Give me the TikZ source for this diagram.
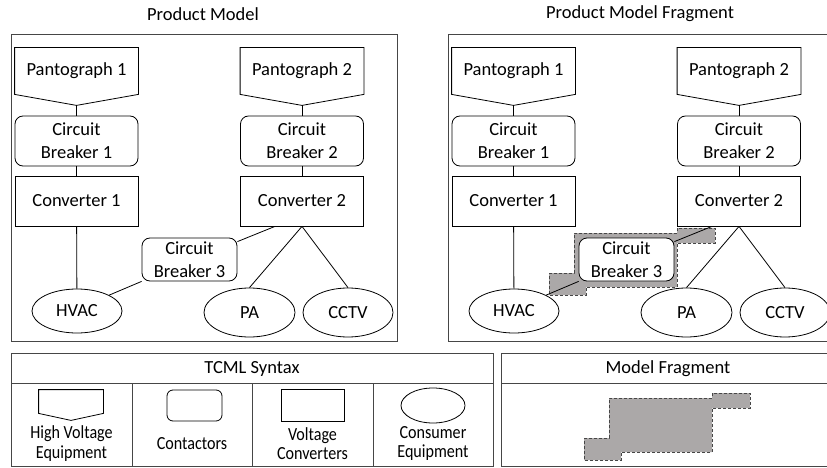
\documentclass[tikz,border=0pt]{standalone}
\usepackage{fontspec}
\setmainfont{Carlito}
\usetikzlibrary{shapes.geometric}
\definecolor{fraggray}{RGB}{171,168,168}
\definecolor{framegray}{RGB}{70,70,70}

% outline of the model fragment, in panel coordinates
\newcommand{\fragpath}{(112,273) -- (137,273) -- (137,233) -- (240,233) -- (240,228) -- (278,228)
  -- (278,243) -- (240,243) -- (240,287) -- (149,287) -- (149,295) -- (112,295) -- cycle}
% pantograph shape drawn round a named node
\newcommand{\hvoutline}[2]{
  \draw (#1.north west) -- (#1.north east) -- (#1.south east) -- ([yshift=-#2]#1.south) -- (#1.south west) -- cycle;
  \coordinate (#1-tip) at ([yshift=-#2]#1.south);
}

\begin{document}
\begin{tikzpicture}[x=1pt,y=-1pt,line width=.8pt,
  every node/.style={font=\fontsize{18.5}{23}\selectfont, align=center, inner sep=0pt},
  hvbox/.style={minimum width=123pt, minimum height=46pt},
  box/.style={draw, fill=white, minimum width=123pt, minimum height=50pt},
  cbox/.style={box, rounded corners=8pt},
  consumer/.style={draw, ellipse, fill=white},
  frag/.style={fill=fraggray, draw=framegray, dash pattern=on 3pt off 2pt},
  small/.style={font=\fontsize{18.5}{19.5}\selectfont, xscale=.87}
]
\clip (0,0) rectangle (827,468);

\draw[frag, shift={(437,0)}] \fragpath;

\foreach \p/\dx/\title in {A/0/Product Model, B/437/Product Model Fragment}{
\begin{scope}[shift={(\dx,0)}]
\node (\p-title) at (203,14) {\title};
\draw[framegray] (11,34) rectangle (397,341);
\node[hvbox] (\p-pan1) at (76.5,71) {Pantograph 1};
\node[hvbox] (\p-pan2) at (302,71) {Pantograph 2};
\hvoutline{\p-pan1}{11pt}
\hvoutline{\p-pan2}{11pt}
\node[cbox] (\p-cb1) at (76.5,141) {Circuit\\Breaker 1};
\node[cbox] (\p-cb2) at (302,141) {Circuit\\Breaker 2};
\node[box] (\p-conv1) at (76.5,201) {Converter 1};
\node[box] (\p-conv2) at (302,201) {Converter 2};
\node[cbox, minimum width=95pt, minimum height=43pt] (\p-cb3) at (189.5,259.5) {Circuit\\Breaker 3};
\node[consumer, minimum width=90pt, minimum height=44pt] (\p-hvac) at (77,311) {HVAC};
\node[consumer, minimum width=91pt, minimum height=49pt] (\p-pa) at (249.5,312.5) {PA};
\node[consumer, minimum width=90pt, minimum height=49pt] (\p-cctv) at (348,312.5) {CCTV};
\draw (\p-pan1-tip) -- (\p-cb1);
\draw (\p-pan2-tip) -- (\p-cb2);
\draw (\p-cb1) -- (\p-conv1);
\draw (\p-cb2) -- (\p-conv2);
\draw (\p-conv1) -- (\p-hvac);
\draw ([xshift=-27pt]\p-conv2.south) -- ([yshift=-4pt]\p-cb3.north east);
\draw (\p-cb3.south west) -- (\p-hvac.north east);
\draw (\p-conv2.south) -- (\p-pa.north);
\draw (\p-conv2.south) -- (\p-cctv.north);
\end{scope}
}

% legend
\draw[framegray] (11,353) rectangle (493,466);
\draw[framegray] (11,383) -- (493,383);
\foreach \x in {132,252,373}
  \draw[framegray] (\x,383) -- (\x,466);
\node (tcml) at (252,369) {TCML Syntax};
\node[hvbox, minimum width=64pt, minimum height=23pt] (lg-hv) at (71,401.5) {};
\hvoutline{lg-hv}{7pt}
\node[cbox, minimum width=55pt, minimum height=31pt, rounded corners=6pt] (lg-ct) at (194.5,405.5) {};
\node[box, minimum width=63pt, minimum height=32pt] (lg-vc) at (312.5,405) {};
\node[consumer, minimum width=64pt, minimum height=35pt] (lg-ce) at (433,405.5) {};
\node[small] (lg-hv-text) at (71.5,443.5) {High Voltage\\Equipment};
\node[small] (lg-ct-text) at (192,443.5) {Contactors};
\node[small] (lg-vc-text) at (312.5,443.5) {Voltage\\Converters};
\node[small] (lg-ce-text) at (433,443.5) {Consumer\\Equipment};

\draw[framegray] (501,353) rectangle (840,466);
\draw[framegray] (501,383) -- (840,383);
\node (mfrag) at (668,369) {Model Fragment};
\draw[frag, shift={(472,165)}] \fragpath;
\end{tikzpicture}
\end{document}
